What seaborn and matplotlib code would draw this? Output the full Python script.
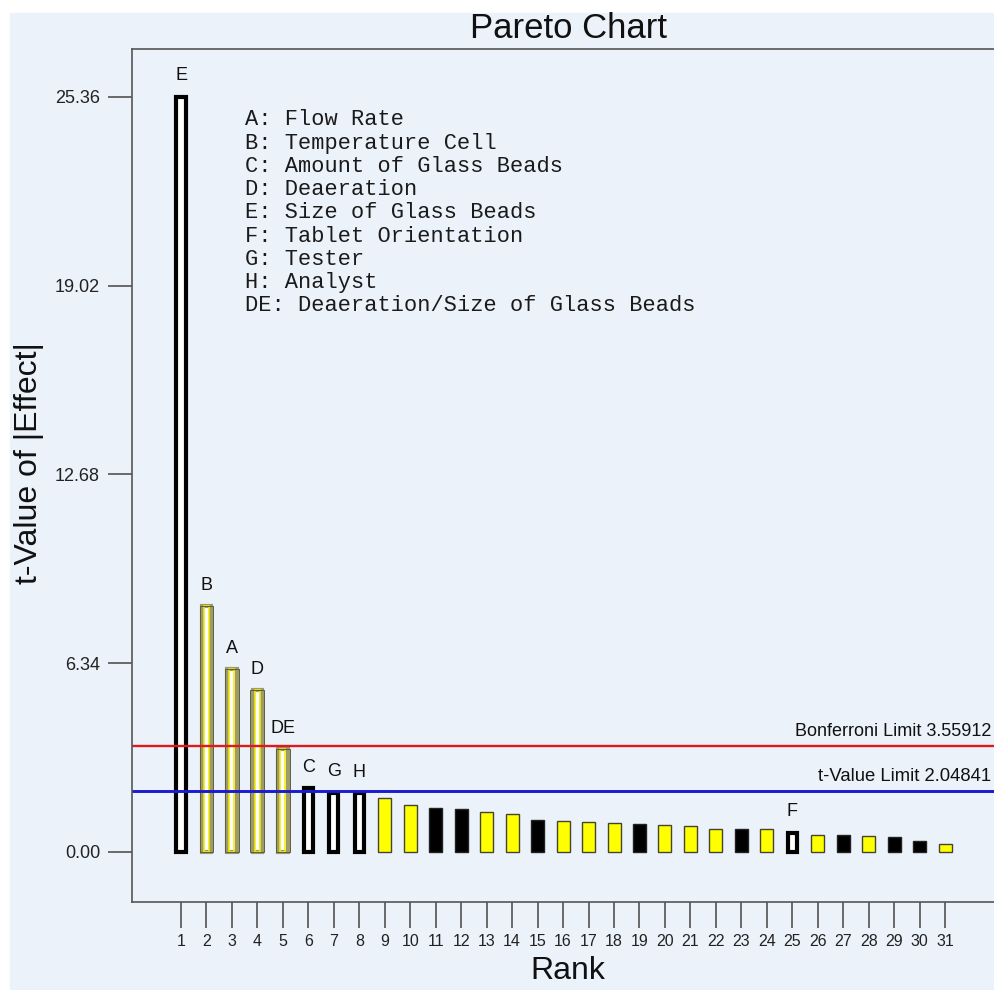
import matplotlib
matplotlib.use("Agg")
import matplotlib.pyplot as plt
from matplotlib.patches import Rectangle
import numpy as np
import pandas as pd
import seaborn as sns

# Effects ranked by |t|
rank = list(range(1, 32))
t_value = [25.36, 8.26, 6.14, 5.44, 3.45, 2.14, 1.99, 1.97, 1.80, 1.58,
           1.49, 1.43, 1.33, 1.28, 1.07, 1.03, 1.01, 0.96, 0.93, 0.92,
           0.87, 0.78, 0.77, 0.76, 0.65, 0.57, 0.56, 0.54, 0.49, 0.38, 0.27]
term_label = ["E", "B", "A", "D", "DE", "C", "G", "H"] + [""] * 16 + ["F"] + [""] * 6
# hollow = black-outlined model term, model = positive model term,
# pos / neg = positive / negative error estimates
bar_kind = ["hollow", "model", "model", "model", "model", "hollow", "hollow", "hollow",
            "pos", "pos", "neg", "neg", "pos", "pos", "neg", "pos", "pos", "pos",
            "neg", "pos", "pos", "pos", "neg", "pos", "hollow", "pos", "neg", "pos",
            "neg", "neg", "pos"]

factor_names = [
    "A: Flow Rate",
    "B: Temperature Cell",
    "C: Amount of Glass Beads",
    "D: Deaeration",
    "E: Size of Glass Beads",
    "F: Tablet Orientation",
    "G: Tester",
    "H: Analyst",
    "DE: Deaeration/Size of Glass Beads",
]

bonferroni_limit = 3.55912
t_limit = 2.04841
y_ticks = [0.00, 6.34, 12.68, 19.02, 25.36]

bg = "#ebf2fa"

sns.set_theme(style="ticks")
plt.rcParams["font.family"] = ["Liberation Sans", "DejaVu Sans"]

df = pd.DataFrame({"rank": rank, "t": t_value, "kind": bar_kind, "label": term_label})

fig = plt.figure(figsize=(9.94, 9.90), dpi=100, facecolor="white")
fig.patches.append(Rectangle((10 / 994, 0), 1, 1 - 13 / 990,
                             transform=fig.transFigure, color=bg, zorder=-5))
ax = fig.add_axes([132 / 994, 88 / 990, 874 / 994, 853 / 990])
ax.set_zorder(1)
ax.set_facecolor(bg)

common = dict(x="rank", y="t", native_scale=True, orient="x", errorbar=None,
              saturation=1, ax=ax)

# filled bars
sns.barplot(data=df[df.kind == "pos"], width=0.51, color="#ffff00",
            edgecolor="#444433", linewidth=1.0, **common)
sns.barplot(data=df[df.kind == "neg"], width=0.5, color="black",
            edgecolor="#222222", linewidth=1.0, **common)
# outlined bars
sns.barplot(data=df[df.kind == "hollow"], width=0.36, color="white",
            edgecolor="black", linewidth=3.0, **common)
sns.barplot(data=df[df.kind == "model"], width=0.38, color="white",
            edgecolor="#9d9b6a", linewidth=3.0, **common)
sns.barplot(data=df[df.kind == "model"], width=0.2, color="#f2ee00",
            fill=False, linewidth=1.1, **common)
sns.barplot(data=df[df.kind == "model"], width=0.545, color="#5e5c40",
            fill=False, linewidth=0.7, **common)

# term letters above the bars
for r, t, lab in zip(rank, t_value, term_label):
    if lab:
        ax.annotate(lab, (r, t), xytext=(0, 9), textcoords="offset points",
                    ha="center", va="bottom", fontsize=13, color="#111111")

# significance limits
ax.axhline(bonferroni_limit, color="#e01a1a", lw=1.7, zorder=1)
ax.axhline(t_limit, color="#1a1ad0", lw=2.1, zorder=1)
ytr = ax.get_yaxis_transform()
ax.annotate(f"Bonferroni Limit {bonferroni_limit:.5f}", (0.983, bonferroni_limit),
            xycoords=ytr, xytext=(0, 4), textcoords="offset points",
            ha="right", va="bottom", fontsize=13, color="#111111",
            annotation_clip=False)
ax.annotate(f"t-Value Limit {t_limit:.5f}", (0.983, t_limit),
            xycoords=ytr, xytext=(0, 4), textcoords="offset points",
            ha="right", va="bottom", fontsize=13.3, color="#111111",
            annotation_clip=False)

# factor key
for i, name in enumerate(factor_names):
    ax.text(0.1293, 0.9168 - i * 0.02726, name, transform=ax.transAxes,
            ha="left", va="center", fontsize=15.8, color="#1a1a1a",
            family=["Liberation Mono", "DejaVu Sans Mono"])

ax.set_xlim(-0.924, 33.39)
ax.set_ylim(-1.68, 26.97)
ax.set_xticks(rank)
ax.set_xticklabels([str(r) for r in rank])
ax.set_yticks(y_ticks)
ax.set_yticklabels([f"{v:.2f}" for v in y_ticks])

ax.tick_params(axis="y", length=17, width=1.1, pad=6, labelsize=13,
               color="#444444", labelcolor="#222222")
ax.tick_params(axis="x", length=19, width=1.1, pad=4, labelsize=11.5,
               color="#444444", labelcolor="#222222")

for side in ["left", "top", "bottom"]:
    ax.spines[side].set_color("#555555")
    ax.spines[side].set_linewidth(1.2)
ax.spines["right"].set_visible(False)

ax.set_title("Pareto Chart", fontsize=25, pad=8, color="#111111")
ax.set_ylabel("t-Value of |Effect|", fontsize=23, color="#111111")
ax.yaxis.set_label_coords(-0.101, 0.515)
ax.set_xlabel("Rank", fontsize=23, color="#111111")
ax.xaxis.set_label_coords(0.499, -0.063)

fig.savefig("out.png", dpi=100, facecolor="white")
